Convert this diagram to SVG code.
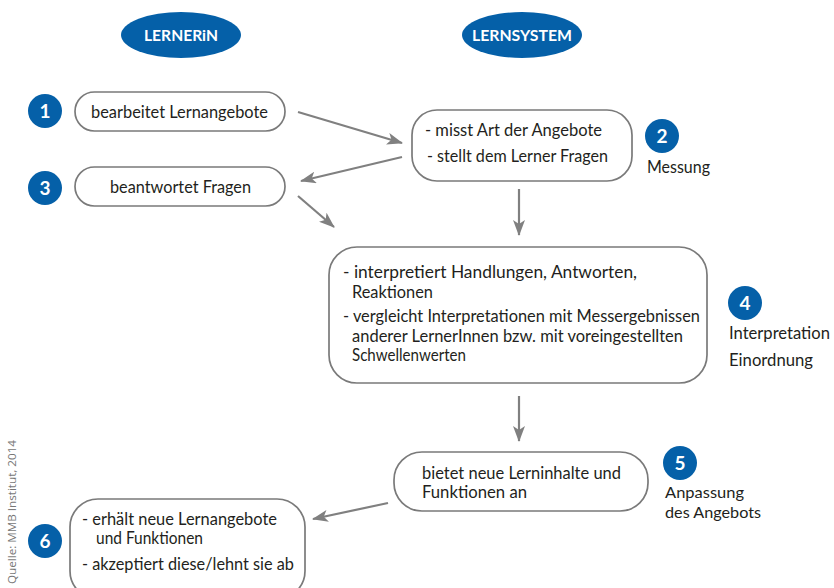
<svg xmlns="http://www.w3.org/2000/svg" width="834" height="588" viewBox="0 0 834 588">
<defs>
<style>
.box{fill:#fff;stroke:#7a7a7a;stroke-width:1.7}
.t{font-family:Lato,"Open Sans","Liberation Sans",sans-serif;font-size:16.5px;fill:#231f20}
.s{font-size:15px}
.hd{font-family:Lato,"Open Sans","Liberation Sans",sans-serif;font-size:15.5px;font-weight:bold;fill:#fff;text-anchor:middle}
.num{font-family:Lato,"Open Sans","Liberation Sans",sans-serif;font-size:19px;font-weight:bold;fill:#fff;text-anchor:middle}
.blue{fill:#0560a8}
.arr{stroke:#808080;stroke-width:2.2;fill:none;marker-end:url(#ah)}
.src{font-family:"Open Sans","Liberation Sans",sans-serif;font-size:10px;fill:#777}
</style>
<marker id="ah" viewBox="0 0 16 12" refX="15" refY="6" markerWidth="16" markerHeight="12" markerUnits="userSpaceOnUse" orient="auto">
<path d="M0,0 L16,6 L0,12 L4,6 z" fill="#808080"/>
</marker>
</defs>
<rect width="834" height="588" fill="#fff"/>

<g id="head-lernerin"><ellipse class="blue" cx="181" cy="35" rx="60" ry="23"/><text class="hd" x="181" y="41" textLength="74" lengthAdjust="spacingAndGlyphs">LERNERiN</text></g>
<g id="head-lernsystem"><ellipse class="blue" cx="522" cy="35" rx="60" ry="23"/><text class="hd" x="522" y="41" textLength="100" lengthAdjust="spacingAndGlyphs">LERNSYSTEM</text></g>

<g id="connectors">
<line class="arr" x1="298" y1="112" x2="402" y2="143"/>
<line class="arr" x1="402" y1="157" x2="301" y2="181"/>
<line class="arr" x1="298" y1="196" x2="334" y2="227"/>
<line class="arr" x1="519" y1="189" x2="519" y2="235"/>
<line class="arr" x1="519" y1="396" x2="519" y2="441"/>
<line class="arr" x1="388" y1="503" x2="313" y2="519"/>
</g>

<g id="n1">
<circle class="blue" cx="45" cy="111" r="17"/><text class="num" x="45" y="118">1</text>
<rect class="box" x="75" y="92" width="210" height="39" rx="19.5"/>
<text class="t" x="91" y="118" textLength="177" lengthAdjust="spacingAndGlyphs">bearbeitet Lernangebote</text>
</g>

<g id="n2">
<rect class="box" x="412" y="110" width="220" height="71" rx="25"/>
<text class="t" x="425" y="136" textLength="177" lengthAdjust="spacingAndGlyphs">- misst Art der Angebote</text>
<text class="t" x="427" y="162" textLength="181" lengthAdjust="spacingAndGlyphs">- stellt dem Lerner Fragen</text>
<circle class="blue" cx="662" cy="136" r="17"/><text class="num" x="662" y="143">2</text>
<text class="t" x="647" y="173" textLength="63" lengthAdjust="spacingAndGlyphs">Messung</text>
</g>

<g id="n3">
<circle class="blue" cx="45" cy="188" r="17"/><text class="num" x="45" y="195">3</text>
<rect class="box" x="75" y="167" width="210" height="39" rx="19.5"/>
<text class="t" x="110" y="193" textLength="141" lengthAdjust="spacingAndGlyphs">beantwortet Fragen</text>
</g>

<g id="n4">
<rect class="box" x="329" y="247" width="378" height="136" rx="28"/>
<text class="t" x="343" y="278" textLength="294" lengthAdjust="spacingAndGlyphs">- interpretiert Handlungen, Antworten,</text>
<text class="t" x="352" y="298" textLength="81" lengthAdjust="spacingAndGlyphs">Reaktionen</text>
<text class="t" x="343" y="322" textLength="357" lengthAdjust="spacingAndGlyphs">- vergleicht Interpretationen mit Messergebnissen</text>
<text class="t" x="352" y="342" textLength="331" lengthAdjust="spacingAndGlyphs">anderer LernerInnen bzw. mit voreingestellten</text>
<text class="t" x="352" y="361" textLength="114" lengthAdjust="spacingAndGlyphs">Schwellenwerten</text>
<circle class="blue" cx="745" cy="303" r="17"/><text class="num" x="745" y="310">4</text>
<text class="t" x="729" y="339" textLength="101" lengthAdjust="spacingAndGlyphs">Interpretation</text>
<text class="t" x="729" y="366" textLength="84" lengthAdjust="spacingAndGlyphs">Einordnung</text>
</g>

<g id="n5">
<rect class="box" x="394" y="452" width="254" height="59" rx="28"/>
<text class="t" x="422" y="479" textLength="199" lengthAdjust="spacingAndGlyphs">bietet neue Lerninhalte und</text>
<text class="t" x="422" y="498" textLength="105" lengthAdjust="spacingAndGlyphs">Funktionen an</text>
<circle class="blue" cx="680" cy="463" r="17"/><text class="num" x="680" y="470">5</text>
<text class="t s" x="665" y="498" textLength="79" lengthAdjust="spacingAndGlyphs">Anpassung</text>
<text class="t s" x="665" y="518" textLength="96" lengthAdjust="spacingAndGlyphs">des Angebots</text>
</g>

<g id="n6">
<circle class="blue" cx="45" cy="541" r="17"/><text class="num" x="45" y="548">6</text>
<rect class="box" x="70" y="499" width="235" height="100" rx="28"/>
<text class="t" x="82" y="525" textLength="195" lengthAdjust="spacingAndGlyphs">- erhält neue Lernangebote</text>
<text class="t" x="96" y="544" textLength="107" lengthAdjust="spacingAndGlyphs">und Funktionen</text>
<text class="t" x="82" y="570" textLength="212" lengthAdjust="spacingAndGlyphs">- akzeptiert diese/lehnt sie ab</text>
</g>

<text class="src" transform="translate(16,584) rotate(-90)" textLength="144" lengthAdjust="spacingAndGlyphs">Quelle: MMB Institut, 2014</text>
</svg>
